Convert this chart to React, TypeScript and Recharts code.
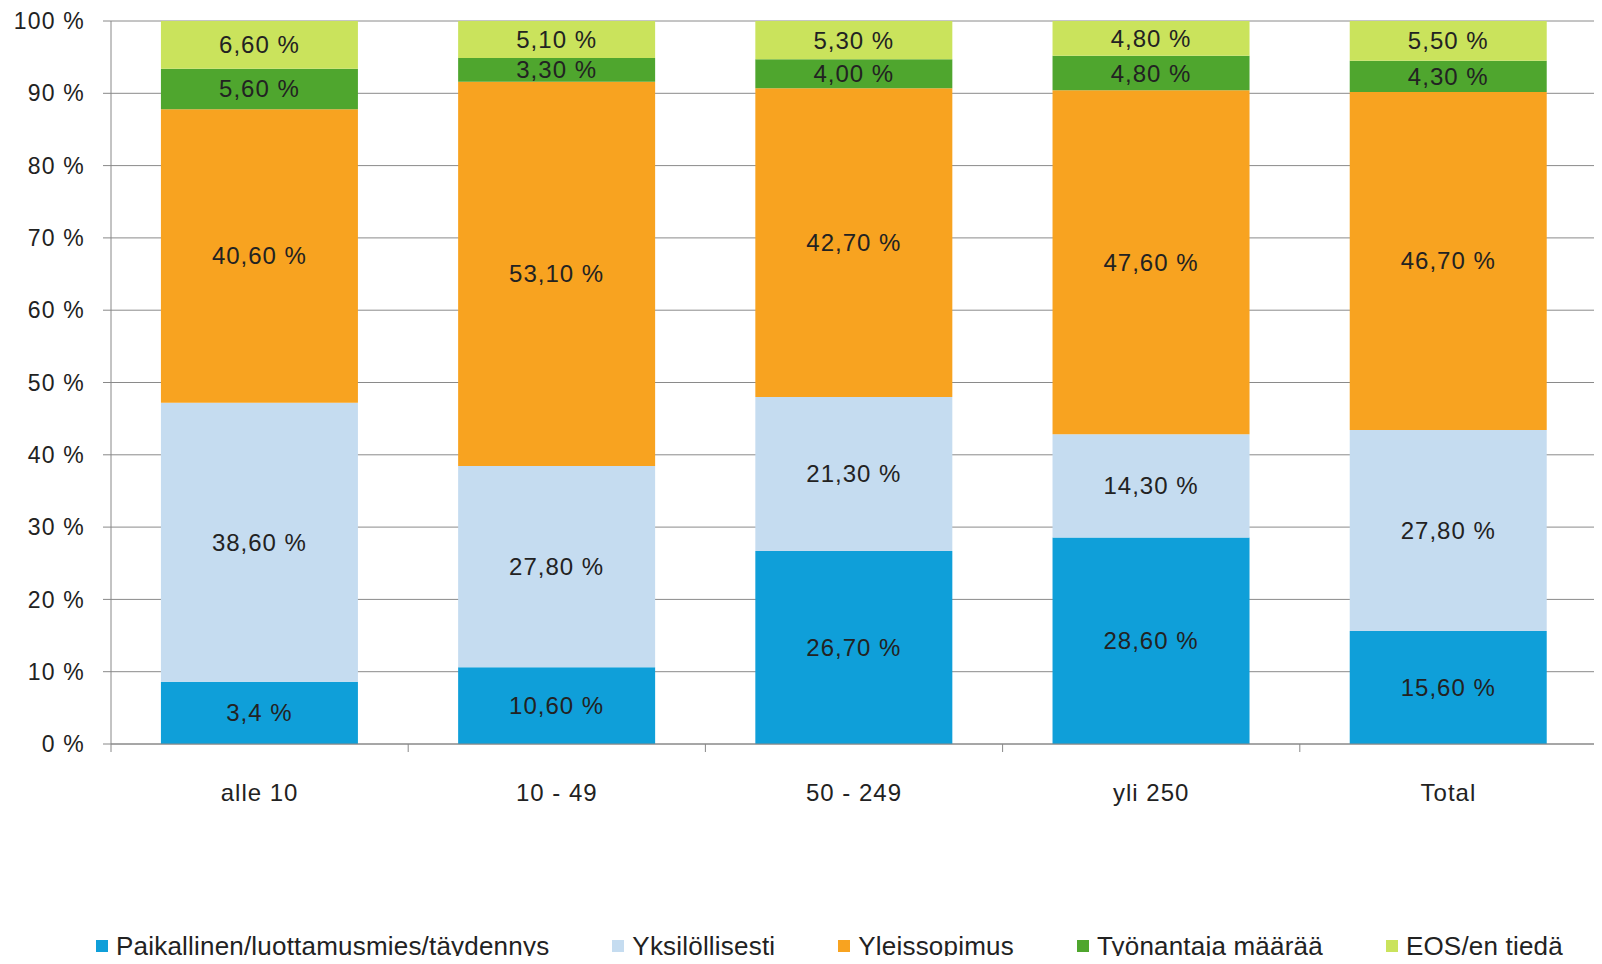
import { BarChart, Bar, XAxis, YAxis, CartesianGrid, LabelList, Legend } from 'recharts';

const categories = ['alle 10', '10 - 49', '50 - 249', 'yli 250', 'Total'];

const paikallinen = [8.6, 10.6, 26.7, 28.6, 15.6];
const yksilollisesti = [38.6, 27.8, 21.3, 14.3, 27.8];
const yleissopimus = [40.6, 53.1, 42.7, 47.6, 46.7];
const tyonantaja = [5.6, 3.3, 4.0, 4.8, 4.3];
const eos = [6.6, 5.1, 5.3, 4.8, 5.5];

// the first bar is printed as "3,4 %" in the source even though it is drawn ~8.6
const paikallinenLabels = ['3,4 %', '10,60 %', '26,70 %', '28,60 %', '15,60 %'];

const yTicks = [0, 0.1, 0.2, 0.3, 0.4, 0.5, 0.6, 0.7, 0.8, 0.9, 1];

const series = [
  { key: 'paikallinen', name: 'Paikallinen/luottamusmies/täydennys', color: '#0f9fd9' },
  { key: 'yksilollisesti', name: 'Yksilöllisesti', color: '#c5dcf0' },
  { key: 'yleissopimus', name: 'Yleissopimus', color: '#f8a320' },
  { key: 'tyonantaja', name: 'Työnantaja määrää', color: '#4fa62e' },
  { key: 'eos', name: 'EOS/en tiedä', color: '#cae35c' },
];

const fmt = (v: number) => v.toFixed(2).replace('.', ',') + ' %';

const data = categories.map((c, i) => ({
  name: c,
  paikallinen: paikallinen[i],
  yksilollisesti: yksilollisesti[i],
  yleissopimus: yleissopimus[i],
  tyonantaja: tyonantaja[i],
  eos: eos[i],
  paikallinenLabel: paikallinenLabels[i],
  yksilollisestiLabel: fmt(yksilollisesti[i]),
  yleissopimusLabel: fmt(yleissopimus[i]),
  tyonantajaLabel: fmt(tyonantaja[i]),
  eosLabel: fmt(eos[i]),
}));

const FONT = 'Arial, "Liberation Sans", sans-serif';
const TEXT = '#222222';
const X_TICK_SIZE = 8;
const X_TICK_MARGIN = 40;

function XTick(props: any) {
  const { x, y, payload, index, width, visibleTicksCount } = props;
  const half = width / (visibleTicksCount || 5) / 2;
  const axisY = y - X_TICK_SIZE - X_TICK_MARGIN;
  const last = index === (visibleTicksCount || 5) - 1;
  return (
    <g>
      <line x1={x - half} x2={x - half} y1={axisY} y2={axisY + X_TICK_SIZE} stroke="#888" />
      {last && <line x1={x + half} x2={x + half} y1={axisY} y2={axisY + X_TICK_SIZE} stroke="#888" />}
      <text x={x} y={y} dy="0.355em" textAnchor="middle" fill={TEXT} fontSize={24} fontFamily={FONT} style={{ letterSpacing: 1 }}>
        {payload.value}
      </text>
    </g>
  );
}

function LegendContent() {
  return (
    <div style={{ display: 'flex', gap: 63, paddingLeft: 88, fontFamily: FONT, fontSize: 26, lineHeight: '26px', letterSpacing: 0.2, color: TEXT }}>
      {series.map((s) => (
        <div key={s.key} style={{ display: 'flex', alignItems: 'flex-start', whiteSpace: 'nowrap' }}>
          <span style={{ width: 12, height: 12, background: s.color, display: 'inline-block', marginTop: 7, marginRight: 8 }} />
          {s.name}
        </div>
      ))}
    </div>
  );
}

export default function App() {
  return (
    <div style={{ height: 956, marginBottom: -8, overflow: 'hidden' }}>
      <BarChart
        width={1590}
        height={956}
        data={data}
        stackOffset="expand"
        barCategoryGap="16.8%"
        margin={{ top: 13, right: 1, bottom: 160, left: 0 }}
      >
        <CartesianGrid vertical={false} stroke="#8a8a8a" />
        <XAxis
          dataKey="name"
          height={60}
          tick={<XTick />}
          tickLine={false}
          tickSize={X_TICK_SIZE}
          tickMargin={X_TICK_MARGIN}
          axisLine={{ stroke: '#888' }}
          interval={0}
        />
        <YAxis
          width={103}
          ticks={yTicks}
          domain={[0, 1]}
          tickFormatter={(v: number) => Math.round(v * 100) + ' %'}
          tick={{ fill: TEXT, fontSize: 23, fontFamily: FONT, style: { letterSpacing: 1.2 } }}
          tickSize={8}
          tickMargin={18}
          tickLine={{ stroke: '#888' }}
          axisLine={{ stroke: '#888' }}
          interval={0}
        />
        <YAxis yAxisId="r" orientation="right" width={0} tick={false} tickLine={false} axisLine={{ stroke: '#666' }} />
        <Legend
          layout="horizontal"
          verticalAlign="middle"
          align="center"
          content={<LegendContent />}
          wrapperStyle={{ top: 925, left: 0, width: 1590 }}
        />
        {series.map((s) => (
          <Bar key={s.key} dataKey={s.key} name={s.name} stackId="a" fill={s.color} isAnimationActive={false}>
            <LabelList
              dataKey={s.key + 'Label'}
              position="center"
              fill={TEXT}
              fontSize={24}
              fontFamily={FONT}
              style={{ letterSpacing: 1 }}
            />
          </Bar>
        ))}
      </BarChart>
    </div>
  );
}
